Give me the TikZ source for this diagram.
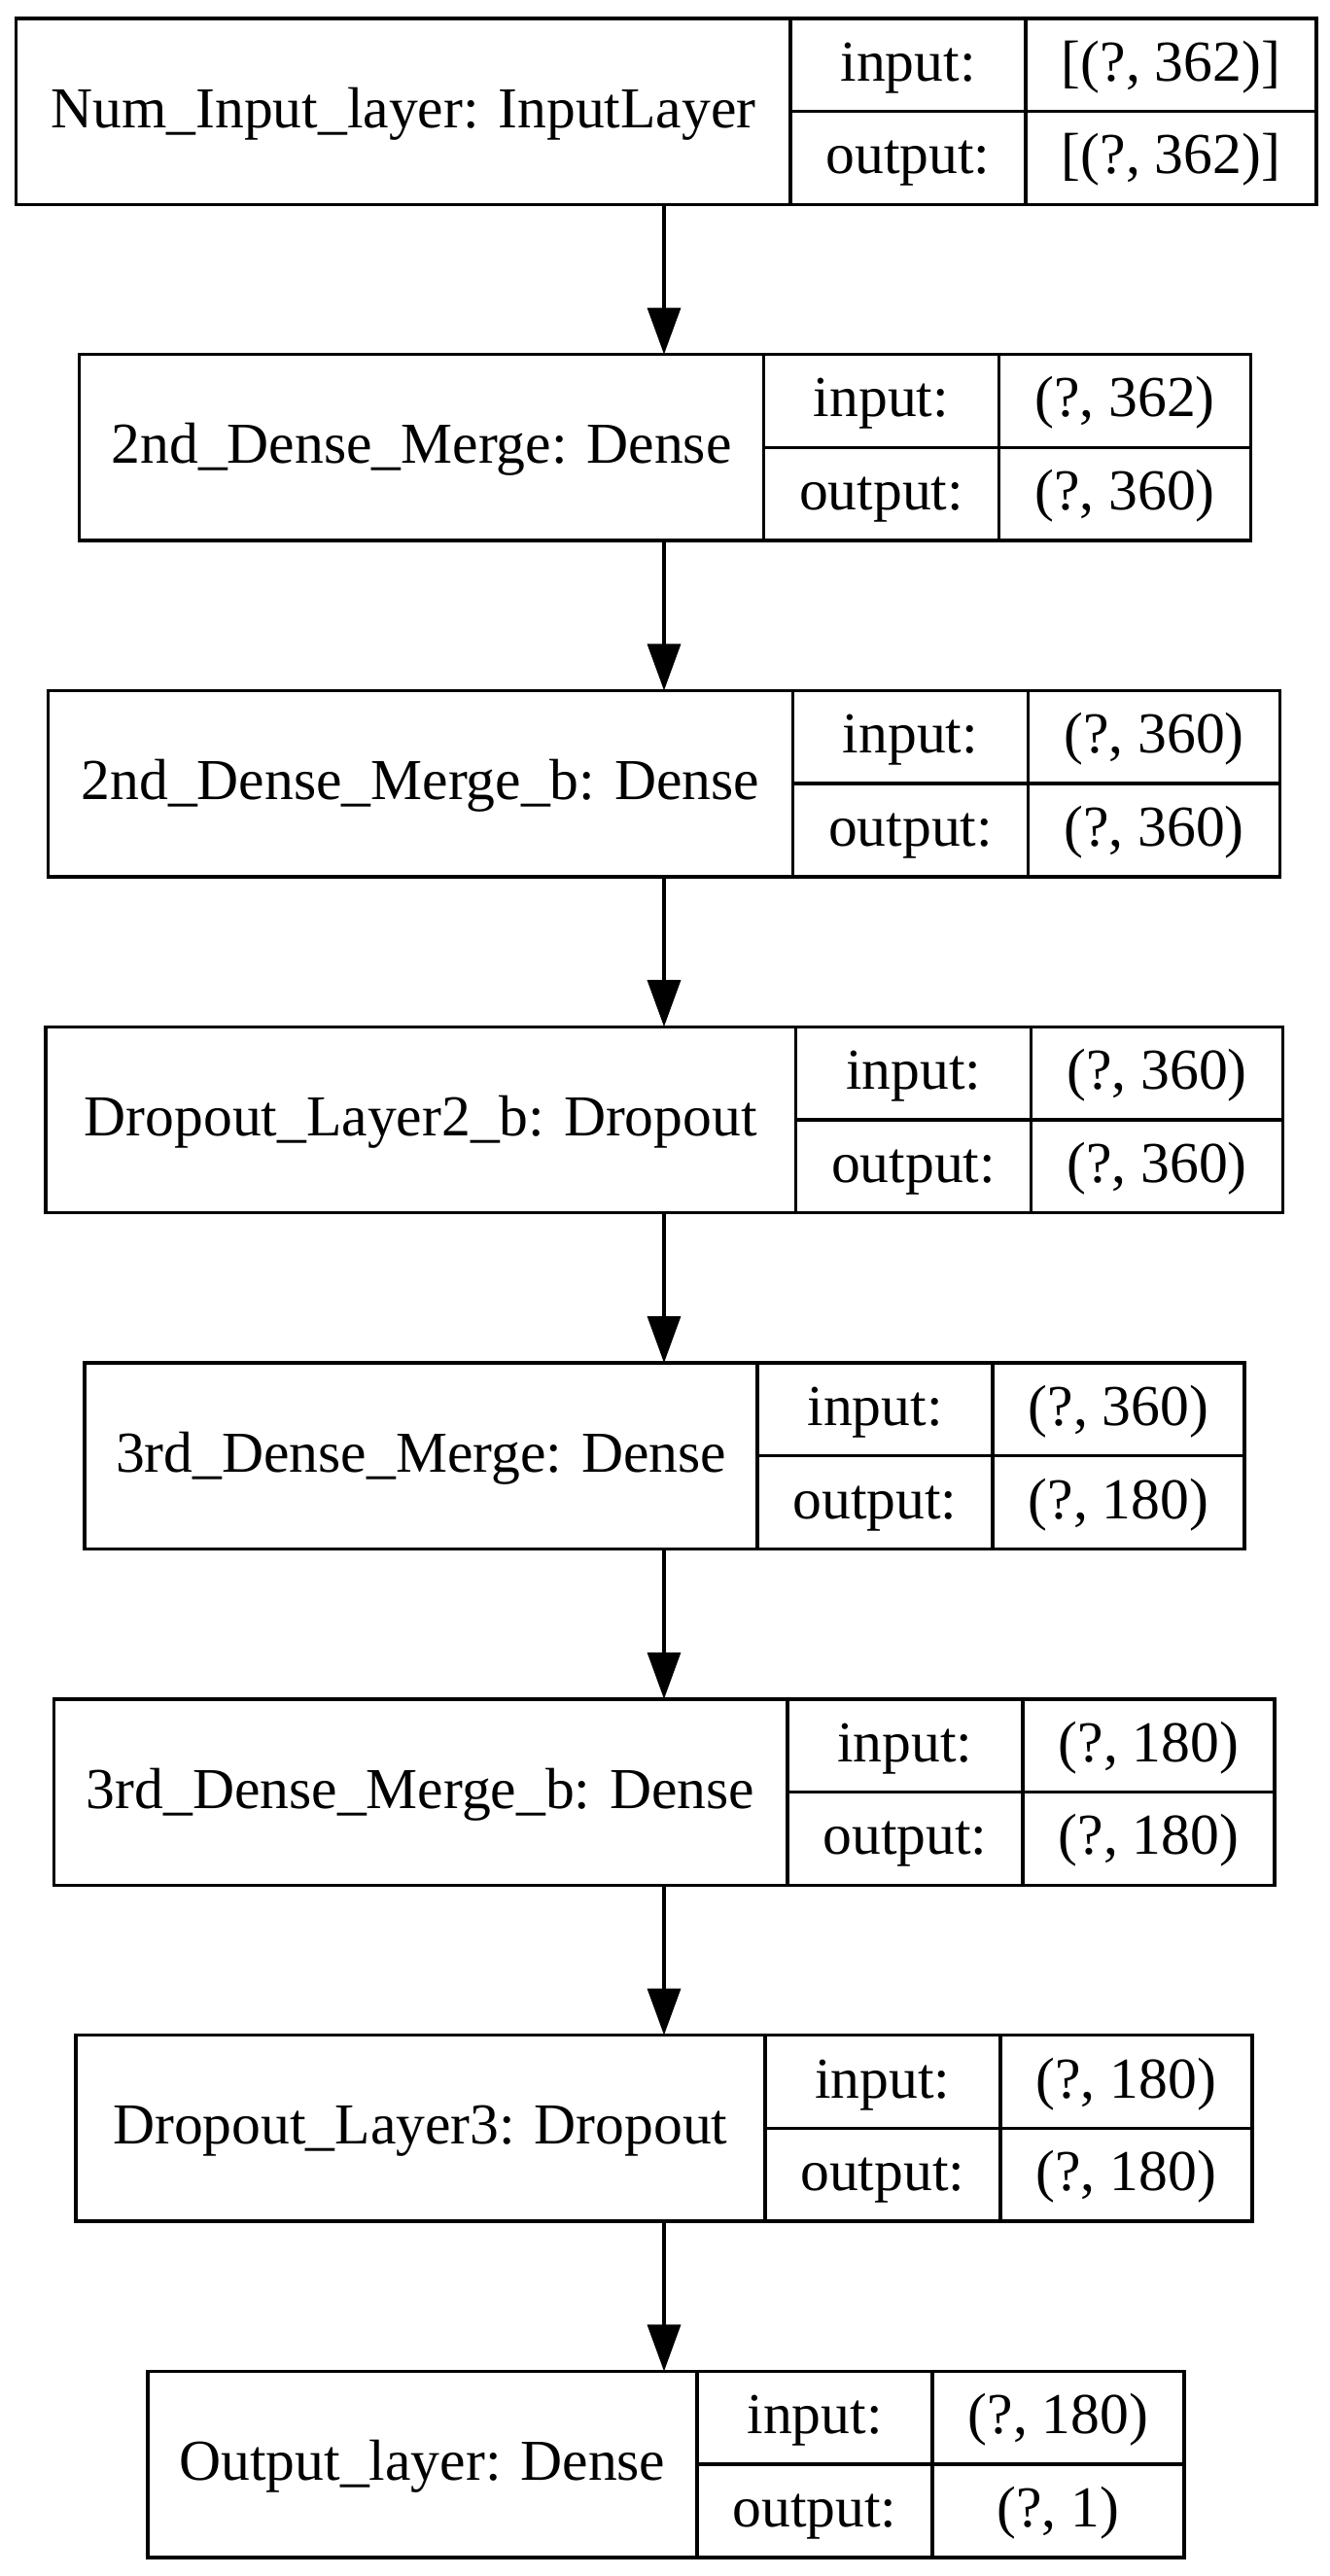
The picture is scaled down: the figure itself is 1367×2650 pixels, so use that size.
\documentclass[tikz,border=0pt]{standalone}
\usepackage{fontspec}
\setmainfont{Liberation Serif}
\usetikzlibrary{arrows.meta}
\begin{document}
\begin{tikzpicture}[x=0.5pt,y=-0.5pt,
  fieldbox/.style={draw=black, line width=1.7pt, rectangle, inner sep=0pt, outer sep=0pt,
    anchor=north west, text height=20pt, text depth=3.5pt,
    font=\fontsize{29.8pt}{36pt}\selectfont},
  mainf/.style={fieldbox, minimum height=95.75pt},
  rowf/.style={fieldbox, minimum height=47.875pt},
  iof/.style={rowf, minimum width=121pt},
  shpf/.style={rowf, minimum width=129.5pt},
  shpwide/.style={rowf, minimum width=149.5pt},
  edge/.style={draw=black, line width=1.7pt, -{Triangle[length=24pt,width=17pt]}}
]
\fill[white] (0,0) rectangle (1367,2650);
\useasboundingbox (0,0) rectangle (1367,2650);
\coordinate (ax) at (683,0);

% 1
\node[mainf, minimum width=398.15pt] (m1) at (16.7,18.8) {Num\_Input\_layer: InputLayer};
\node[iof] (i1) at (m1.north east) {input:};
\node[iof] (o1) at (i1.south west) {output:};
\node[shpwide] (si1) at (i1.north east) {[(?, 362)]};
\node[shpwide] (so1) at (si1.south west) {[(?, 362)]};

% 2
\node[mainf, minimum width=351.9pt] (m2) at (81.7,364.6) {2nd\_Dense\_Merge: Dense};
\node[iof] (i2) at (m2.north east) {input:};
\node[iof] (o2) at (i2.south west) {output:};
\node[shpf] (si2) at (i2.north east) {(?, 362)};
\node[shpf] (so2) at (si2.south west) {(?, 360)};

% 3
\node[mainf, minimum width=383.15pt] (m3) at (49.2,710.4) {2nd\_Dense\_Merge\_b: Dense};
\node[iof] (i3) at (m3.north east) {input:};
\node[iof] (o3) at (i3.south west) {output:};
\node[shpf] (si3) at (i3.north east) {(?, 360)};
\node[shpf] (so3) at (si3.south west) {(?, 360)};

% 4
\node[mainf, minimum width=385.8pt] (m4) at (47,1056.2) {Dropout\_Layer2\_b: Dropout};
\node[iof] (i4) at (m4.north east) {input:};
\node[iof] (o4) at (i4.south west) {output:};
\node[shpf] (si4) at (i4.north east) {(?, 360)};
\node[shpf] (so4) at (si4.south west) {(?, 360)};

% 5
\node[mainf, minimum width=345.95pt] (m5) at (87.1,1402.0) {3rd\_Dense\_Merge: Dense};
\node[iof] (i5) at (m5.north east) {input:};
\node[iof] (o5) at (i5.south west) {output:};
\node[shpf] (si5) at (i5.north east) {(?, 360)};
\node[shpf] (so5) at (si5.south west) {(?, 180)};

% 6
\node[mainf, minimum width=377.3pt] (m6) at (55.3,1747.8) {3rd\_Dense\_Merge\_b: Dense};
\node[iof] (i6) at (m6.north east) {input:};
\node[iof] (o6) at (i6.south west) {output:};
\node[shpf] (si6) at (i6.north east) {(?, 180)};
\node[shpf] (so6) at (si6.south west) {(?, 180)};

% 7
\node[mainf, minimum width=354.5pt] (m7) at (77.8,2093.6) {Dropout\_Layer3: Dropout};
\node[iof] (i7) at (m7.north east) {input:};
\node[iof] (o7) at (i7.south west) {output:};
\node[shpf] (si7) at (i7.north east) {(?, 180)};
\node[shpf] (so7) at (si7.south west) {(?, 180)};

% 8
\node[mainf, minimum width=282.5pt] (m8) at (152,2439.4) {Output\_layer: Dense};
\node[iof] (i8) at (m8.north east) {input:};
\node[iof] (o8) at (i8.south west) {output:};
\node[shpf] (si8) at (i8.north east) {(?, 180)};
\node[shpf] (so8) at (si8.south west) {(?, 1)};

% edges
\draw[edge] (ax |- m1.south) -- (ax |- m2.north);
\draw[edge] (ax |- m2.south) -- (ax |- m3.north);
\draw[edge] (ax |- m3.south) -- (ax |- m4.north);
\draw[edge] (ax |- m4.south) -- (ax |- m5.north);
\draw[edge] (ax |- m5.south) -- (ax |- m6.north);
\draw[edge] (ax |- m6.south) -- (ax |- m7.north);
\draw[edge] (ax |- m7.south) -- (ax |- m8.north);
\end{tikzpicture}
\end{document}
